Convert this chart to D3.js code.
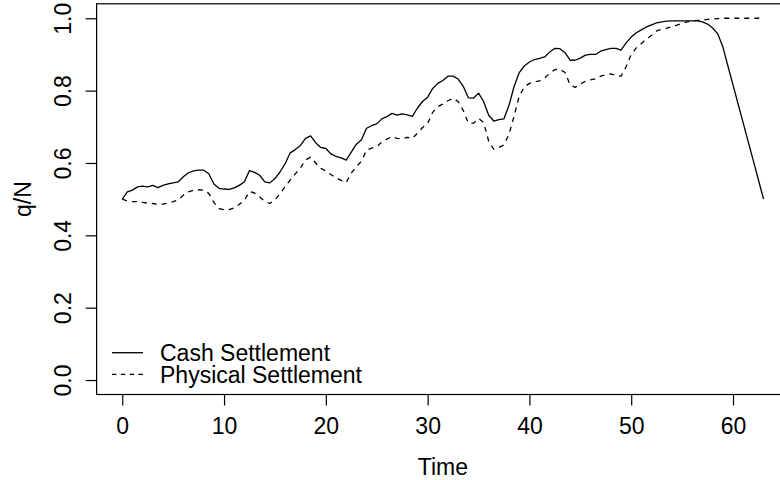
<!DOCTYPE html>
<html>
<head>
<meta charset="utf-8">
<script src="https://cdn.jsdelivr.net/npm/d3@7"></script>
<style>
  html, body { margin: 0; padding: 0; background: #fff; }
  svg { display: block; }
  text { font-family: "Liberation Sans", Arial, Helvetica, sans-serif; fill: #000; }
</style>
</head>
<body>
<svg id="chart" width="780" height="480"></svg>
<script>
// ---- data (t = 0 .. 63, step 0.5) ----
const times = d3.range(0, 63.01, 0.5);
const cashSettlement = [
  0.500,0.520,0.525,0.534,0.536,0.534,0.538,0.532,0.538,0.542,
  0.545,0.548,0.562,0.573,0.578,0.580,0.580,0.570,0.542,0.530,
  0.528,0.527,0.531,0.538,0.548,0.579,0.574,0.566,0.548,0.545,
  0.557,0.575,0.598,0.628,0.637,0.648,0.668,0.675,0.656,0.643,
  0.640,0.625,0.618,0.614,0.608,0.630,0.652,0.664,0.696,0.703,
  0.708,0.722,0.728,0.737,0.732,0.736,0.733,0.729,0.752,0.770,
  0.782,0.806,0.820,0.828,0.840,0.840,0.832,0.812,0.780,0.779,
  0.793,0.770,0.732,0.716,0.720,0.722,0.760,0.812,0.850,0.868,
  0.879,0.886,0.889,0.893,0.907,0.917,0.916,0.905,0.884,0.884,
  0.890,0.898,0.900,0.900,0.909,0.913,0.917,0.917,0.912,0.932,
  0.948,0.960,0.968,0.976,0.982,0.987,0.990,0.992,0.993,0.993,
  0.993,0.993,0.993,0.993,0.990,0.984,0.973,0.957,0.921,0.868,
  0.816,0.763,0.711,0.658,0.606,0.553,0.500
];
const physicalSettlement = [
  0.500,0.495,0.493,0.493,0.491,0.489,0.488,0.486,0.486,0.489,
  0.493,0.498,0.511,0.520,0.525,0.526,0.525,0.516,0.491,0.474,
  0.471,0.471,0.476,0.486,0.497,0.521,0.517,0.506,0.494,0.488,
  0.498,0.515,0.535,0.553,0.570,0.586,0.608,0.616,0.600,0.585,
  0.578,0.568,0.559,0.552,0.546,0.572,0.590,0.605,0.636,0.641,
  0.645,0.658,0.666,0.673,0.668,0.667,0.671,0.668,0.682,0.698,
  0.709,0.740,0.756,0.763,0.772,0.779,0.770,0.745,0.710,0.710,
  0.723,0.712,0.660,0.638,0.643,0.650,0.680,0.730,0.785,0.810,
  0.820,0.824,0.827,0.835,0.848,0.858,0.859,0.850,0.816,0.809,
  0.818,0.826,0.830,0.833,0.840,0.844,0.846,0.842,0.840,0.866,
  0.900,0.918,0.930,0.943,0.953,0.965,0.970,0.973,0.977,0.981,
  0.986,0.990,0.993,0.994,0.995,0.997,0.998,0.999,1.000,1.000,
  1.000,1.000,1.000,1.000,1.000,1.000,1.000
];
const xTicks = [0, 10, 20, 30, 40, 50, 60];
const yTicks = [0.0, 0.2, 0.4, 0.6, 0.8, 1.0];
const seriesNames = ["Cash Settlement", "Physical Settlement"];

// ---- layout ----
const svg = d3.select("#chart");
const pLeft = 96.6, pRight = 789.2, pTop = 3.8, pBottom = 394.5;
const x = d3.scaleLinear().domain([-2.52, 65.52]).range([pLeft, pRight]);
const y = d3.scaleLinear().domain([-0.04, 1.04]).range([pBottom, pTop]);
const fs = 23;

svg.append("rect").attr("width", 780).attr("height", 480).attr("fill", "#fff");

// series
const series = [
  { name: seriesNames[0], values: cashSettlement, dash: null },
  { name: seriesNames[1], values: physicalSettlement, dash: "5,5" }
];
const line = d3.line().x((d, i) => x(times[i])).y(d => y(d));
series.forEach(s => {
  svg.append("path")
    .attr("d", line(s.values))
    .attr("fill", "none")
    .attr("stroke", "#000")
    .attr("stroke-width", 1.3)
    .attr("stroke-linejoin", "round")
    .attr("stroke-dasharray", s.dash);
});

// frame
svg.append("rect")
  .attr("x", pLeft).attr("y", pTop)
  .attr("width", pRight - pLeft).attr("height", pBottom - pTop)
  .attr("fill", "none").attr("stroke", "#000").attr("stroke-width", 1.2);

// x axis
const xAxis = d3.axisBottom(x).tickValues(xTicks).tickSize(11).tickFormat(d3.format("d"));
const gx = svg.append("g").attr("transform", `translate(0,${pBottom})`).call(xAxis);
gx.select(".domain").remove();
gx.selectAll("line").attr("stroke", "#000").attr("stroke-width", 1.2);
gx.selectAll("text").attr("y", 39.5).attr("dy", null)
  .style("font-size", fs + "px").style("font-family", "Liberation Sans, Arial, sans-serif").attr("fill", "#000");

// y axis
const yAxis = d3.axisLeft(y).tickValues(yTicks).tickSize(11).tickFormat(d3.format(".1f"));
const gy = svg.append("g").attr("transform", `translate(${pLeft},0)`).call(yAxis);
gy.select(".domain").remove();
gy.selectAll("line").attr("stroke", "#000").attr("stroke-width", 1.2);
gy.selectAll("text")
  .attr("x", null).attr("dy", null)
  .attr("transform", "translate(-25.5,0) rotate(-90)")
  .attr("y", 0)
  .attr("text-anchor", "middle")
  .style("font-size", fs + "px").style("font-family", "Liberation Sans, Arial, sans-serif").attr("fill", "#000");

// axis titles
svg.append("text").attr("x", (pLeft + pRight) / 2).attr("y", 475)
  .attr("text-anchor", "middle").style("font-size", fs + "px").text("Time");
svg.append("text")
  .attr("transform", `translate(31,${(pTop + pBottom) / 2}) rotate(-90)`)
  .attr("text-anchor", "middle").style("font-size", fs + "px").text("q/N");

// legend
const legY = [352.7, 374.3];
series.forEach((s, i) => {
  svg.append("line")
    .attr("x1", 112).attr("x2", 143).attr("y1", legY[i]).attr("y2", legY[i])
    .attr("stroke", "#000").attr("stroke-width", 1.3)
    .attr("stroke-dasharray", s.dash ? "4.4,4.4" : null);
  svg.append("text").attr("x", 160).attr("y", legY[i] + 8.5)
    .style("font-size", fs + "px").text(s.name);
});
</script>
</body>
</html>
